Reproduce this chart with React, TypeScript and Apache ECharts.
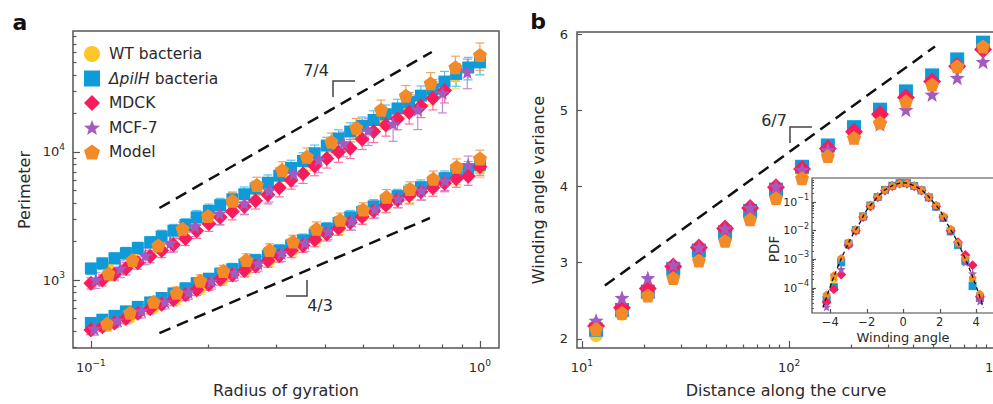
import React, { useEffect, useRef } from "react";
import * as echarts from "echarts";

// ---------------- Panel a data (radius of gyration vs perimeter) ----------------
const xDenseA = [0.100, 0.107, 0.115, 0.123, 0.132, 0.142, 0.152, 0.163, 0.175, 0.187, 0.201, 0.215, 0.231, 0.248, 0.265, 0.285, 0.305, 0.327, 0.351, 0.376, 0.404, 0.433, 0.464, 0.498, 0.533, 0.573, 0.614, 0.658, 0.705, 0.757, 0.811, 0.869, 0.933, 1.000];
const xUpModel = [0.111, 0.128, 0.149, 0.172, 0.200, 0.231, 0.267, 0.310, 0.359, 0.415, 0.481, 0.557, 0.645, 0.747, 0.865, 1.000];
const xUpStar = [0.103, 0.119, 0.138, 0.160, 0.185, 0.214, 0.248, 0.287, 0.332, 0.385, 0.446, 0.516, 0.598, 0.692, 0.801, 0.928];
const xLowModel = [0.110, 0.126, 0.145, 0.166, 0.191, 0.219, 0.251, 0.288, 0.331, 0.380, 0.437, 0.501, 0.575, 0.661, 0.759, 0.871, 1.000];
const xLowStar = [0.102, 0.117, 0.135, 0.155, 0.178, 0.204, 0.234, 0.269, 0.309, 0.355, 0.407, 0.468, 0.537, 0.617, 0.708, 0.813, 0.933];

const upWT = [1230, 1514, 1928, 2399, 3273, 4027, 4955, 6457, 8511, 11220, 14454, 18197, 22909, 28840, 38905, 50119];
const upPilH = [1230, 1349, 1479, 1622, 1778, 1972, 2188, 2427, 2692, 3090, 3467, 3846, 4266, 4677, 5188, 5754, 6531, 7499, 8511, 9772, 11220, 12735, 14454, 16032, 17783, 19724, 21878, 24547, 27542, 30903, 35481, 40738, 45709, 50119];
const upMDCK = [944, 1000, 1109, 1230, 1365, 1531, 1698, 1884, 2113, 2427, 2754, 3090, 3428, 3758, 4169, 4624, 5248, 6026, 6761, 7762, 8913, 10000, 10715, 12589, 14454, 16218, 18197, 20417, 22909, 26303, 30200];
const upMCF7 = [1000, 1230, 1549, 1950, 2630, 3311, 3981, 5012, 6761, 8710, 11749, 14791, 16596, 21380, 28840, 42170];
const upModel = [1122, 1432, 1862, 2512, 3162, 4169, 5521, 7228, 9183, 12023, 15488, 21380, 27542, 34435, 45920, 57280];

const lowWT = [437, 513, 610, 716, 861, 1023, 1202, 1429, 1718, 2089, 2570, 3162, 3890, 4624, 5495, 6457, 7413];
const lowPilH = [462, 490, 525, 569, 617, 668, 724, 785, 861, 944, 1023, 1122, 1216, 1318, 1429, 1549, 1698, 1862, 2042, 2265, 2512, 2786, 3090, 3388, 3758, 4121, 4519, 4898, 5309, 5754, 6237, 6761, 7328, 7943];
const lowMDCK = [407, 432, 462, 501, 550, 596, 646, 700, 767, 841, 923, 1012, 1096, 1189, 1288, 1413, 1549, 1698, 1862, 2065, 2291, 2541, 2818, 3126, 3467, 3846, 4217, 4571, 4898, 5248, 5689, 6166, 6457, 7674];
const lowMCF7 = [417, 484, 575, 676, 804, 977, 1135, 1349, 1622, 1950, 2399, 2884, 3589, 4315, 5012, 5957, 7943];
const lowModel = [457, 556, 676, 794, 989, 1175, 1432, 1714, 1995, 2512, 2951, 3548, 4467, 5129, 6166, 7674, 8913];

// relative error (fraction of value)
const errUpWT = [0.12, 0.12, 0.13, 0.13, 0.14, 0.14, 0.15, 0.15, 0.16, 0.16, 0.17, 0.17, 0.18, 0.19, 0.2, 0.2];
const errUpDense = [0.1, 0.1, 0.1, 0.11, 0.11, 0.11, 0.12, 0.12, 0.12, 0.13, 0.13, 0.13, 0.14, 0.14, 0.14, 0.15, 0.15, 0.15, 0.16, 0.16, 0.16, 0.17, 0.17, 0.17, 0.18, 0.18, 0.18, 0.19, 0.19, 0.19, 0.2, 0.2, 0.2, 0.2];
const errUpMCF7 = [0.14, 0.15, 0.15, 0.16, 0.17, 0.18, 0.18, 0.19, 0.2, 0.21, 0.22, 0.24, 0.27, 0.3, 0.3, 0.26];
const errUpModel = [0.12, 0.12, 0.13, 0.13, 0.14, 0.15, 0.15, 0.16, 0.17, 0.17, 0.18, 0.19, 0.2, 0.21, 0.22, 0.24];
const errLowWT = [0.09, 0.09, 0.1, 0.1, 0.1, 0.11, 0.11, 0.11, 0.12, 0.12, 0.12, 0.13, 0.13, 0.13, 0.14, 0.14, 0.15];
const errLowDense = [0.08, 0.08, 0.08, 0.09, 0.09, 0.09, 0.09, 0.1, 0.1, 0.1, 0.1, 0.1, 0.11, 0.11, 0.11, 0.11, 0.11, 0.12, 0.12, 0.12, 0.12, 0.12, 0.13, 0.13, 0.13, 0.13, 0.13, 0.14, 0.14, 0.14, 0.14, 0.14, 0.15, 0.15];
const errLowMCF7 = [0.11, 0.11, 0.12, 0.12, 0.12, 0.13, 0.13, 0.13, 0.14, 0.14, 0.14, 0.15, 0.15, 0.15, 0.16, 0.16, 0.17];
const errLowModel = [0.1, 0.1, 0.1, 0.11, 0.11, 0.11, 0.12, 0.12, 0.12, 0.13, 0.13, 0.13, 0.14, 0.14, 0.15, 0.15, 0.16];

const refA1X = [0.150, 0.752];
const refA1Y = [3650, 60400];
const refA2X = [0.150, 0.744];
const refA2Y = [385, 3050];

const aXMajor = [0.1, 1];
const aXMinor = [0.2, 0.3, 0.4, 0.5, 0.6, 0.7, 0.8, 0.9];
const aYMajor = [1000, 10000];
const aYMinor = [300, 400, 500, 600, 700, 800, 900, 2000, 3000, 4000, 5000, 6000, 7000, 8000, 9000, 20000, 30000, 40000, 50000, 60000, 70000, 80000];

// ---------------- Panel b data (winding angle variance) ----------------
const xB = [11.7, 15.6, 20.8, 27.6, 36.7, 49.1, 64.9, 86.5, 115.6, 154, 206, 275, 367, 491, 649, 865];
const bWT = [2.05, 2.33, 2.58, 2.88, 3.12, 3.37, 3.64, 3.92, 4.20, 4.48, 4.72, 4.95, 5.20, 5.42, 5.62, 5.84];
const bPilH = [2.12, 2.38, 2.62, 2.92, 3.16, 3.40, 3.68, 3.96, 4.26, 4.54, 4.78, 5.01, 5.25, 5.46, 5.67, 5.89];
const bMDCK = [2.17, 2.41, 2.66, 2.95, 3.20, 3.45, 3.72, 3.99, 4.23, 4.50, 4.72, 4.95, 5.17, 5.38, 5.58, 5.80];
const bMCF7 = [2.24, 2.54, 2.80, 2.97, 3.20, 3.45, 3.72, 4.00, 4.22, 4.48, 4.64, 4.82, 5.01, 5.21, 5.43, 5.64];
const bModel = [2.13, 2.34, 2.57, 2.80, 3.03, 3.29, 3.57, 3.85, 4.11, 4.40, 4.64, 4.84, 5.12, 5.34, 5.58, 5.84];
const refBX = [12.9, 507];
const refBY = [2.70, 5.84];
const bXMajor = [10, 100, 1000];
const bXMinor = [20, 30, 40, 50, 60, 70, 80, 90, 200, 300, 400, 500, 600, 700, 800, 900];
const bYTicks = [2, 3, 4, 5, 6];

// ---------------- Inset data (PDF of winding angle) ----------------
const xIn = [-4.2, -3.8, -3.4, -3.0, -2.6, -2.2, -1.8, -1.4, -1.0, -0.6, -0.2, 0.2, 0.6, 1.0, 1.4, 1.8, 2.2, 2.6, 3.0, 3.4, 3.8, 4.2];
const inWT = [5.0e-5, 2.0e-4, 1.0e-3, 3.7e-3, 0.011, 0.0316, 0.076, 0.151, 0.263, 0.372, 0.457, 0.457, 0.372, 0.263, 0.151, 0.076, 0.0316, 0.011, 3.7e-3, 1.0e-3, 1.78e-4, 5.6e-5];
const inPilH = [4.0e-5, 1.07e-4, 7.9e-4, 3.55e-3, 0.0105, 0.0316, 0.076, 0.151, 0.263, 0.372, 0.457, 0.457, 0.363, 0.257, 0.145, 0.069, 0.028, 9.5e-3, 3.2e-3, 8.9e-4, 1.17e-4, 4.5e-5];
const inMDCK = [3.2e-5, 9.1e-5, 3.0e-4, 3.2e-3, 0.010, 0.030, 0.071, 0.148, 0.251, 0.363, 0.447, 0.447, 0.355, 0.251, 0.148, 0.072, 0.030, 0.010, 3.98e-3, 1.41e-3, 6.3e-4, 5.0e-5];
const inMCF7 = [2.2e-5, 2.5e-4, 4.5e-4, 3.55e-3, 0.0107, 0.0316, 0.079, 0.155, 0.263, 0.380, 0.468, 0.468, 0.372, 0.263, 0.151, 0.076, 0.0316, 0.0107, 3.55e-3, 7.9e-4, 3.2e-4, 3.5e-5];
const inModel = [6.0e-5, 2.8e-4, 1.12e-3, 3.98e-3, 0.0112, 0.033, 0.079, 0.158, 0.269, 0.380, 0.457, 0.468, 0.380, 0.269, 0.158, 0.079, 0.033, 0.0117, 3.8e-3, 1.12e-3, 2.24e-4, 6.3e-5];
const xFit = [-4.4, -4.0, -3.6, -3.2, -2.8, -2.4, -2.0, -1.6, -1.2, -0.8, -0.4, 0, 0.4, 0.8, 1.2, 1.6, 2.0, 2.4, 2.8, 3.2, 3.6, 4.0, 4.4];
const yFit = [2.1e-5, 1.12e-4, 5.2e-4, 2.0e-3, 6.6e-3, 0.0178, 0.052, 0.107, 0.209, 0.316, 0.417, 0.468, 0.417, 0.316, 0.209, 0.107, 0.052, 0.0178, 6.6e-3, 2.0e-3, 5.2e-4, 1.12e-4, 2.1e-5];
const inXTicks = [-4, -2, 0, 2, 4];
const inYMajor = [1e-4, 1e-3, 1e-2, 1e-1];
const inYMantissa = [2, 3, 4, 5, 6, 7, 8, 9];
const inYDecades = [1e-5, 1e-4, 1e-3, 1e-2, 1e-1];

const legendNames = ["WT bacteria", "\u0394pilH bacteria", "MDCK", "MCF-7", "Model"];

// ---------------- styling ----------------
const FONT = '"DejaVu Sans", "Liberation Sans", sans-serif';
const AX = "#555";
const TXT = "#2a2a2a";
const C = { wt: "#FFC629", pilh: "#0E9BD8", mdck: "#F91C5D", mcf: "#A45BC0", model: "#F28A28" };
const CE = { wt: "#FFD661", pilh: "#5EC2EE", mdck: "#FF6E9B", mcf: "#C18AD8", model: "#F5A257" };
const PENTAGON = "path://M0,-10L9.51,-3.09L5.88,8.09L-5.88,8.09L-9.51,-3.09Z";
const STAR = "path://M0,-10L2.47,-3.4L9.51,-3.09L3.99,1.3L5.88,8.09L0,4.2L-5.88,8.09L-3.99,1.3L-9.51,-3.09L-2.47,-3.4Z";

const L = Math.log10;
const logPts = (xs: number[], ys: number[]) => ys.map((y, i) => [L(xs[i]), L(y)]);
const errPts = (xs: number[], ys: number[], fs: number[]) => ys.map((y, i) => [L(xs[i]), L(y * (1 - fs[i])), L(y * (1 + fs[i]))]);

const supTxt = (e: number) => (e < 0 ? "\u2212" + -e : String(e));
const powLabel = (size: number, supSize: number) => ({
  formatter: (v: number) => `{b|10}{s|${supTxt(Math.round(v))}}`,
  rich: {
    b: { fontSize: size, fontFamily: FONT, color: TXT, lineHeight: size + 6 },
    s: { fontSize: supSize, fontFamily: FONT, color: TXT, verticalAlign: "top", lineHeight: supSize + 1 },
  },
});

const tickStyle = { color: AX, width: 1.2 };
const noLine = { show: false, onZero: false };

function errSeries(data: number[][], color: string, xi: number, yi: number) {
  return {
    type: "custom",
    name: "err",
    xAxisIndex: xi,
    yAxisIndex: yi,
    silent: true,
    data,
    encode: { x: 0, y: [1, 2] },
    renderItem: (_p: any, api: any) => {
      const x = api.value(0);
      const a = api.coord([x, api.value(1)]);
      const b = api.coord([x, api.value(2)]);
      const hw = 4.5;
      const st = { stroke: color, lineWidth: 1.2 };
      return {
        type: "group",
        children: [
          { type: "line", shape: { x1: a[0], y1: a[1], x2: b[0], y2: b[1] }, style: st },
          { type: "line", shape: { x1: a[0] - hw, y1: a[1], x2: a[0] + hw, y2: a[1] }, style: st },
          { type: "line", shape: { x1: b[0] - hw, y1: b[1], x2: b[0] + hw, y2: b[1] }, style: st },
        ],
      };
    },
  };
}

function sc(name: string, data: number[][], symbol: string, size: number, color: string, xi: number, yi: number) {
  return {
    type: "scatter",
    name,
    data,
    symbol,
    symbolSize: size,
    xAxisIndex: xi,
    yAxisIndex: yi,
    silent: true,
    itemStyle: { color, opacity: 1 },
  };
}

function dashLine(data: number[][], xi: number, yi: number, dash: number[], width: number, smooth = false) {
  return {
    type: "line",
    name: "ref",
    data,
    xAxisIndex: xi,
    yAxisIndex: yi,
    symbol: "none",
    smooth,
    silent: true,
    z: 4,
    lineStyle: { color: "#111", width, type: dash },
  };
}

function buildOption() {
  const seriesA: any[] = [];
  seriesA.push(errSeries(errPts(xUpModel, upWT, errUpWT), CE.wt, 0, 0));
  seriesA.push(errSeries(errPts(xLowModel, lowWT, errLowWT), CE.wt, 0, 0));
  seriesA.push(sc(legendNames[0], logPts(xUpModel, upWT), "circle", 12, C.wt, 0, 0));
  seriesA.push(sc(legendNames[0], logPts(xLowModel, lowWT), "circle", 12, C.wt, 0, 0));
  seriesA.push(errSeries(errPts(xDenseA, upPilH, errUpDense), CE.pilh, 0, 0));
  seriesA.push(errSeries(errPts(xDenseA, lowPilH, errLowDense), CE.pilh, 0, 0));
  seriesA.push(sc(legendNames[1], logPts(xDenseA, upPilH), "rect", 12, C.pilh, 0, 0));
  seriesA.push(sc(legendNames[1], logPts(xDenseA, lowPilH), "rect", 12, C.pilh, 0, 0));
  seriesA.push(errSeries(errPts(xDenseA, upMDCK, errUpDense), CE.mdck, 0, 0));
  seriesA.push(errSeries(errPts(xDenseA, lowMDCK, errLowDense), CE.mdck, 0, 0));
  seriesA.push(sc(legendNames[2], logPts(xDenseA, upMDCK), "diamond", 15, C.mdck, 0, 0));
  seriesA.push(sc(legendNames[2], logPts(xDenseA, lowMDCK), "diamond", 15, C.mdck, 0, 0));
  seriesA.push(errSeries(errPts(xUpStar, upMCF7, errUpMCF7), CE.mcf, 0, 0));
  seriesA.push(errSeries(errPts(xLowStar, lowMCF7, errLowMCF7), CE.mcf, 0, 0));
  seriesA.push(sc(legendNames[3], logPts(xUpStar, upMCF7), STAR, 14, C.mcf, 0, 0));
  seriesA.push(sc(legendNames[3], logPts(xLowStar, lowMCF7), STAR, 14, C.mcf, 0, 0));
  seriesA.push(errSeries(errPts(xUpModel, upModel, errUpModel), CE.model, 0, 0));
  seriesA.push(errSeries(errPts(xLowModel, lowModel, errLowModel), CE.model, 0, 0));
  seriesA.push(sc(legendNames[4], logPts(xUpModel, upModel), PENTAGON, 14, C.model, 0, 0));
  seriesA.push(sc(legendNames[4], logPts(xLowModel, lowModel), PENTAGON, 14, C.model, 0, 0));
  seriesA.push(dashLine(logPts(refA1X, refA1Y), 0, 0, [12, 7], 2.5));
  seriesA.push(dashLine(logPts(refA2X, refA2Y), 0, 0, [12, 7], 2.5));

  const bp = (ys: number[]) => ys.map((y, i) => [L(xB[i]), y]);
  const seriesB: any[] = [
    sc(legendNames[0], bp(bWT), "circle", 14, C.wt, 2, 2),
    sc(legendNames[1], bp(bPilH), "rect", 14, C.pilh, 2, 2),
    sc(legendNames[2], bp(bMDCK), "diamond", 18, C.mdck, 2, 2),
    sc(legendNames[3], bp(bMCF7), STAR, 15, C.mcf, 2, 2),
    sc(legendNames[4], bp(bModel), PENTAGON, 14, C.model, 2, 2),
    dashLine(refBX.map((x, i) => [L(x), refBY[i]]), 2, 2, [12, 7], 2.5),
  ];

  const ip = (ys: number[]) => ys.map((y, i) => [xIn[i], L(y)]);
  const seriesIn: any[] = [
    sc(legendNames[0], ip(inWT), "circle", 8, C.wt, 4, 3),
    sc(legendNames[1], ip(inPilH), "rect", 8, C.pilh, 4, 3),
    sc(legendNames[2], ip(inMDCK), "diamond", 10, C.mdck, 4, 3),
    sc(legendNames[3], ip(inMCF7), STAR, 9, C.mcf, 4, 3),
    sc(legendNames[4], ip(inModel), PENTAGON, 8, C.model, 4, 3),
    dashLine(yFit.map((y, i) => [xFit[i], L(y)]), 4, 3, [4, 3], 1.3, true),
  ];

  const inYMinor = inYDecades.flatMap((d) => inYMantissa.map((m) => L(m * d)));

  const txt = (text: string, x: number, y: number, size: number, extra: any = {}) => ({
    type: "text",
    x,
    y,
    silent: true,
    ...extra,
    style: { text, fontFamily: FONT, fontSize: size, fill: TXT, align: "center", verticalAlign: "middle", ...(extra.style || {}) },
  });
  const bracket = (pts: number[][]) => ({
    type: "polyline",
    silent: true,
    shape: { points: pts },
    style: { stroke: "#444", lineWidth: 1.5, fill: null },
  });

  return {
    animation: false,
    backgroundColor: "#fff",
    textStyle: { fontFamily: FONT },
    grid: [
      { left: 73, top: 31, width: 426, height: 317, show: true, borderColor: AX, borderWidth: 1.5, backgroundColor: "transparent", outerBoundsMode: "none" },
      { left: 577, top: 32, width: 423, height: 316, show: true, borderColor: AX, borderWidth: 1.5, backgroundColor: "transparent", outerBoundsMode: "none" },
      { left: 812, top: 178, width: 182.5, height: 135, show: true, borderColor: "#444", borderWidth: 1.2, backgroundColor: "#fff", outerBoundsMode: "none" },
    ],
    xAxis: [
      {
        gridIndex: 0, type: "value", min: -1.046, max: 0.049, position: "bottom",
        axisLine: noLine, splitLine: { show: false },
        axisTick: { inside: true, length: 7, customValues: aXMajor.map(L), lineStyle: tickStyle },
        axisLabel: { customValues: aXMajor.map(L), margin: 10, ...powLabel(13, 9) },
      },
      {
        gridIndex: 0, type: "value", min: -1.046, max: 0.049, position: "bottom",
        axisLine: noLine, splitLine: { show: false }, axisLabel: { show: false },
        axisTick: { inside: true, length: 3.5, customValues: aXMinor.map(L), lineStyle: tickStyle },
      },
      {
        gridIndex: 1, type: "value", min: 0.976, max: 3.019, position: "bottom",
        axisLine: noLine, splitLine: { show: false },
        axisTick: { inside: true, length: 7, customValues: bXMajor.map(L), lineStyle: tickStyle },
        axisLabel: { customValues: bXMajor.map(L), margin: 10, ...powLabel(13, 9) },
      },
      {
        gridIndex: 1, type: "value", min: 0.976, max: 3.019, position: "bottom",
        axisLine: noLine, splitLine: { show: false }, axisLabel: { show: false },
        axisTick: { inside: true, length: 3.5, customValues: bXMinor.map(L), lineStyle: tickStyle },
      },
      {
        gridIndex: 2, type: "value", min: -5, max: 5, position: "bottom",
        axisLine: noLine, splitLine: { show: false },
        axisTick: { inside: true, length: 4, customValues: inXTicks, lineStyle: tickStyle },
        axisLabel: {
          customValues: inXTicks, margin: 3, fontSize: 11.5, fontFamily: FONT, color: TXT,
          formatter: (v: number) => (v < 0 ? "\u2212" + -v : String(v)),
        },
      },
    ],
    yAxis: [
      {
        gridIndex: 0, type: "value", min: 2.469, max: 4.945, position: "left",
        axisLine: noLine, splitLine: { show: false },
        axisTick: { inside: true, length: 7, customValues: aYMajor.map(L), lineStyle: tickStyle },
        axisLabel: { customValues: aYMajor.map(L), margin: 8, ...powLabel(13, 9) },
      },
      {
        gridIndex: 0, type: "value", min: 2.469, max: 4.945, position: "left",
        axisLine: noLine, splitLine: { show: false }, axisLabel: { show: false },
        axisTick: { inside: true, length: 3.5, customValues: aYMinor.map(L), lineStyle: tickStyle },
      },
      {
        gridIndex: 1, type: "value", min: 1.88, max: 6.03, position: "left",
        axisLine: noLine, splitLine: { show: false },
        axisTick: { inside: true, length: 5, customValues: bYTicks, lineStyle: tickStyle },
        axisLabel: { customValues: bYTicks, margin: 9, fontSize: 13, fontFamily: FONT, color: TXT },
      },
      {
        gridIndex: 2, type: "value", min: -4.87, max: -0.16, position: "left",
        axisLine: noLine, splitLine: { show: false },
        axisTick: { inside: true, length: 4, customValues: inYMajor.map(L), lineStyle: tickStyle },
        axisLabel: { customValues: inYMajor.map(L), margin: 3, ...powLabel(11, 8) },
      },
      {
        gridIndex: 2, type: "value", min: -4.87, max: -0.16, position: "left",
        axisLine: noLine, splitLine: { show: false }, axisLabel: { show: false },
        axisTick: { inside: true, length: 2, customValues: inYMinor, lineStyle: tickStyle },
      },
    ],
    legend: {
      orient: "vertical", left: 79, top: 41, itemWidth: 16, itemHeight: 16, itemGap: 8.5,
      selectedMode: false, data: legendNames,
      formatter: (n: string) => (n === legendNames[1] ? "{it|\u0394pilH} bacteria" : n),
      textStyle: {
        fontFamily: FONT, fontSize: 15.5, color: TXT, padding: [0, 0, 0, 4],
        rich: { it: { fontFamily: FONT, fontSize: 15.5, color: TXT, fontStyle: "italic" } },
      },
    },
    graphic: [
      txt("a", 20, 22, 22, { style: { fontWeight: "bold", fill: "#111" } }),
      txt("b", 538, 21, 22, { style: { fontWeight: "bold", fill: "#111" } }),
      txt("Perimeter", 24, 190, 16, { rotation: Math.PI / 2 }),
      txt("Radius of gyration", 286, 390, 16),
      txt("Winding angle variance", 538, 190, 16, { rotation: Math.PI / 2 }),
      txt("Distance along the curve", 786, 390, 16),
      txt("PDF", 774, 249, 13.5, { rotation: Math.PI / 2 }),
      txt("Winding angle", 903, 337.5, 13),
      txt("7/4", 316, 70, 16),
      txt("4/3", 320, 305, 16),
      txt("6/7", 774, 120, 16),
      bracket([[333, 97], [333, 81], [355, 81]]),
      bracket([[286, 296], [307, 296], [307, 280]]),
      bracket([[790, 143], [790, 127], [812, 127]]),
    ],
    series: [...seriesA, ...seriesB, ...seriesIn],
  };
}

export default function App() {
  const ref = useRef<HTMLDivElement>(null);
  useEffect(() => {
    if (!ref.current) return;
    const chart = echarts.init(ref.current, null, { renderer: "svg" });
    chart.setOption(buildOption() as any);
    return () => chart.dispose();
  }, []);
  return <div ref={ref} style={{ position: "absolute", left: 0, top: 0, width: 993, height: 404 }} />;
}
